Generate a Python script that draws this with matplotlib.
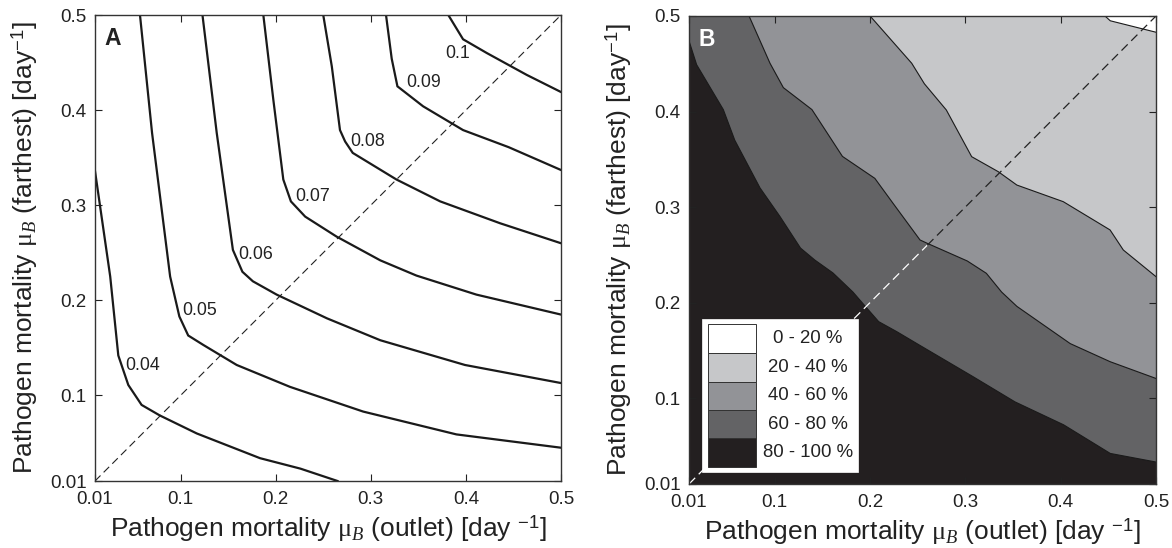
import matplotlib
matplotlib.use('Agg')
import matplotlib.pyplot as plt
from matplotlib.patches import Rectangle

plt.rcParams['font.family'] = ['Liberation Sans', 'DejaVu Sans']
plt.rcParams['mathtext.fontset'] = 'custom'
plt.rcParams['mathtext.rm'] = 'Liberation Serif'
plt.rcParams['mathtext.it'] = 'Liberation Serif:italic'
plt.rcParams['mathtext.sf'] = 'Liberation Sans'

# ---------------- data ----------------
ticks = [0.01, 0.1, 0.2, 0.3, 0.4, 0.5]
tick_labels = ['0.01', '0.1', '0.2', '0.3', '0.4', '0.5']

# Panel A: contour lines
levels_A = ['0.04', '0.05', '0.06', '0.07', '0.08', '0.09', '0.1']
c04_x = [0.010, 0.026, 0.0345, 0.045, 0.059, 0.078, 0.117, 0.1835, 0.226, 0.265]
c04_y = [0.336, 0.225, 0.142, 0.111, 0.090, 0.079, 0.060, 0.034, 0.023, 0.010]
c05_x = [0.0573, 0.070, 0.089, 0.0987, 0.108, 0.124, 0.159, 0.215, 0.292, 0.390, 0.500]
c05_y = [0.500, 0.376, 0.225, 0.183, 0.163, 0.153, 0.132, 0.109, 0.083, 0.059, 0.045]
c06_x = [0.123, 0.138, 0.155, 0.165, 0.176, 0.201, 0.254, 0.310, 0.399, 0.500]
c06_y = [0.500, 0.376, 0.253, 0.230, 0.220, 0.206, 0.181, 0.158, 0.132, 0.113]
c07_x = [0.187, 0.1975, 0.208, 0.216, 0.231, 0.264, 0.310, 0.348, 0.411, 0.500]
c07_y = [0.500, 0.411, 0.327, 0.304, 0.288, 0.267, 0.242, 0.226, 0.206, 0.185]
c08_x = [0.250, 0.259, 0.2676, 0.273, 0.281, 0.327, 0.373, 0.436, 0.500]
c08_y = [0.500, 0.446, 0.379, 0.367, 0.355, 0.327, 0.304, 0.281, 0.260]
c09_x = [0.316, 0.322, 0.328, 0.355, 0.397, 0.445, 0.500]
c09_y = [0.500, 0.454, 0.425, 0.404, 0.379, 0.361, 0.337]
c10_x = [0.3815, 0.397, 0.422, 0.464, 0.500]
c10_y = [0.500, 0.4745, 0.460, 0.437, 0.419]
label_x = [0.0604, 0.1198, 0.179, 0.2386, 0.297, 0.3554, 0.391]
label_y = [0.131, 0.189, 0.248, 0.3096, 0.367, 0.4287, 0.459]

# Panel B: class boundaries of the filled contours
classes_B = ['0 - 20 %', '20 - 40 %', '40 - 60 %', '60 - 80 %', '80 - 100 %']
b80_x = [0.010, 0.018, 0.046, 0.058, 0.0845, 0.1055, 0.127, 0.142, 0.161, 0.182,
         0.195, 0.209, 0.228, 0.2525, 0.308, 0.352, 0.403, 0.452, 0.500]
b80_y = [0.474, 0.449, 0.402, 0.370, 0.320, 0.290, 0.257, 0.2445, 0.231, 0.211,
         0.196, 0.180, 0.1695, 0.155, 0.1224, 0.096, 0.072, 0.042, 0.033]
b60_x = [0.073, 0.095, 0.109, 0.139, 0.171, 0.205, 0.224, 0.2524, 0.260, 0.302,
         0.322, 0.338, 0.354, 0.410, 0.452, 0.500]
b60_y = [0.500, 0.4505, 0.425, 0.402, 0.353, 0.330, 0.304, 0.2655, 0.262, 0.2435,
         0.2306, 0.211, 0.196, 0.157, 0.138, 0.1205]
b40_x = [0.200, 0.2437, 0.257, 0.280, 0.3066, 0.3345, 0.354, 0.4027, 0.4518, 0.4657, 0.500]
b40_y = [0.500, 0.4505, 0.429, 0.4016, 0.3527, 0.337, 0.323, 0.3056, 0.276, 0.255, 0.2271]
b20_x = [0.4465, 0.452, 0.500]
b20_y = [0.500, 0.495, 0.483]
colors_B = ['#ffffff', '#c6c7c9', '#929397', '#636365', '#231f20']

diag = [0.01, 0.5]
diag_switch = 0.26

# ---------------- figure ----------------
fig = plt.figure(figsize=(11.72, 5.48), dpi=100)
axA = fig.add_axes([95/1172, 1-481/548, 466/1172, 466/548])
axB = fig.add_axes([689/1172, 1-484/548, 467/1172, 468/548])

xlab = r'Pathogen mortality $\mathrm{\mu}_{B}$ (outlet) [day $^{\mathsf{-1}}$]'
ylab = r'Pathogen mortality $\mathrm{\mu}_{B}$ (farthest) [day$^{\mathsf{-1}}$]'

for ax in (axA, axB):
    ax.set_xlim(0.01, 0.5)
    ax.set_ylim(0.01, 0.5)
    ax.set_xticks(ticks)
    ax.set_xticklabels(tick_labels)
    ax.set_yticks(ticks)
    ax.set_yticklabels(tick_labels)
    ax.tick_params(direction='in', top=True, right=True, length=5, width=0.8,
                   labelsize=13.5, colors='#222222')
    ax.tick_params(axis='x', pad=7)
    ax.tick_params(axis='y', pad=6)
    for s in ax.spines.values():
        s.set_linewidth(1.0)
        s.set_color('#333333')
        s.set_zorder(10)
    ax.set_xlabel(xlab, fontsize=19, labelpad=4, color='#222222')
    ax.set_ylabel(ylab, fontsize=19, labelpad=7, color='#222222')

# Panel A
curves = [(c04_x, c04_y), (c05_x, c05_y), (c06_x, c06_y), (c07_x, c07_y),
          (c08_x, c08_y), (c09_x, c09_y), (c10_x, c10_y)]
for (cx, cy), lab, lx, ly in zip(curves, levels_A, label_x, label_y):
    axA.plot(cx, cy, color='#1a1a1a', lw=1.6, solid_joinstyle='miter', zorder=3)
    axA.text(lx, ly, lab, fontsize=12.8, ha='center', va='center', color='#222222', zorder=4)
axA.plot(diag, diag, color='#222222', lw=0.8, dashes=(7, 4), zorder=2)
axA.text(0.021, 0.975, 'A', transform=axA.transAxes, fontsize=16.5, fontweight='bold',
         ha='left', va='top', color='#222222')

# Panel B
axB.fill([0.01, 0.5, 0.5, 0.01], [0.01, 0.01, 0.5, 0.5], color=colors_B[4], lw=0, zorder=1)
axB.fill(b80_x + [0.5, 0.01], b80_y + [0.5, 0.5], color=colors_B[3], lw=0, zorder=1)
axB.fill(b60_x + [0.5], b60_y + [0.5], color=colors_B[2], lw=0, zorder=1)
axB.fill(b40_x + [0.5], b40_y + [0.5], color=colors_B[1], lw=0, zorder=1)
axB.fill(b20_x + [0.5], b20_y + [0.5], color=colors_B[0], lw=0, zorder=1)
for bx, by in [(b80_x, b80_y), (b60_x, b60_y), (b40_x, b40_y), (b20_x, b20_y)]:
    axB.plot(bx, by, color='#1a1a1a', lw=0.8, zorder=2)
axB.plot([diag[0], diag_switch], [diag[0], diag_switch], color='white', lw=0.9,
         dashes=(7, 4), zorder=3)
axB.plot([diag_switch, diag[1]], [diag_switch, diag[1]], color='#222222', lw=0.9,
         dashes=(7, 4), zorder=3)
axB.text(0.021, 0.975, 'B', transform=axB.transAxes, fontsize=16.5, fontweight='bold',
         ha='left', va='top', color='white', zorder=5)

# legend (manual, MATLAB style)
axB.add_patch(Rectangle((0.0272, 0.0263), 0.334, 0.3257, transform=axB.transAxes,
                        facecolor='white', edgecolor='white', lw=0.5, zorder=6))
row_tops = [0.3412, 0.2792, 0.2186, 0.158, 0.0976]
row_h = 0.0608
for i, (lab, col) in enumerate(zip(classes_B, colors_B)):
    top = row_tops[i]
    axB.add_patch(Rectangle((0.0413, top - row_h), 0.1015, row_h, transform=axB.transAxes,
                            facecolor=col, edgecolor='#333333', lw=0.7, zorder=7))
    axB.text(0.2548, top - row_h/2, lab, transform=axB.transAxes, fontsize=13.4,
             ha='center', va='center', color='#222222', zorder=8)

fig.savefig('out.png', dpi=100)
